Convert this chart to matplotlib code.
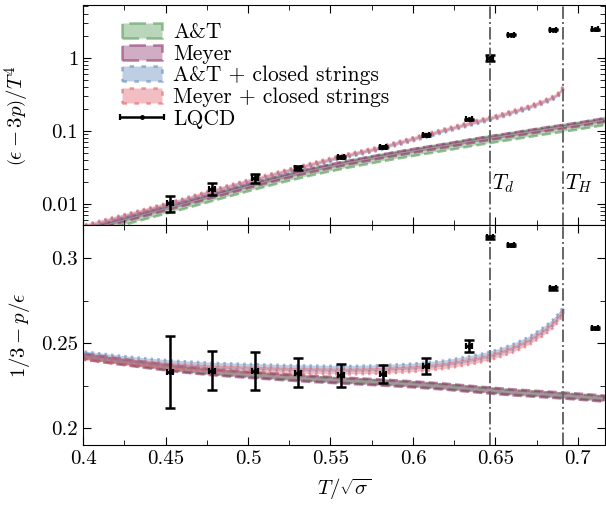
import matplotlib
matplotlib.use("Agg")
import matplotlib.pyplot as plt
from matplotlib.ticker import FixedLocator, FixedFormatter, MultipleLocator, NullFormatter, LogLocator
from matplotlib.legend_handler import HandlerErrorbar

plt.rcParams['font.family'] = 'serif'
plt.rcParams['font.serif'] = ['cmr10']
plt.rcParams['mathtext.fontset'] = 'cm'
plt.rcParams['axes.formatter.use_mathtext'] = True
plt.rcParams['font.size'] = 15

# temperatures T/sqrt(sigma)
T_d = 0.6468
T_H = 0.6912

# model curves
x_hg = [0.40, 0.42, 0.44, 0.46, 0.48, 0.50, 0.52, 0.54, 0.56, 0.58, 0.60,
        0.62, 0.64, 0.66, 0.68, 0.70, 0.716]
trace_hg = [0.0041, 0.0055, 0.0073, 0.0096, 0.0128, 0.0170, 0.0223, 0.0286,
            0.0355, 0.0432, 0.0518, 0.0614, 0.0735, 0.0865, 0.102, 0.119, 0.137]
ratio_hg = [0.2423, 0.2396, 0.2371, 0.2347, 0.2329, 0.2315, 0.2302, 0.2290,
            0.2280, 0.2270, 0.2259, 0.2245, 0.2228, 0.2212, 0.2200, 0.2187, 0.2175]

x_cs = [0.40, 0.42, 0.44, 0.46, 0.48, 0.50, 0.52, 0.54, 0.56, 0.58, 0.60,
        0.62, 0.64, 0.65, 0.66, 0.67, 0.68, 0.685, 0.688, 0.690, 0.6912]
trace_cs = [0.0048, 0.0063, 0.0083, 0.0110, 0.0151, 0.0201, 0.0265, 0.0350,
            0.0455, 0.0575, 0.0765, 0.102, 0.134, 0.153, 0.178, 0.207, 0.252,
            0.282, 0.310, 0.350, 0.390]
ratio_cs = [0.2428, 0.2405, 0.2385, 0.2370, 0.2360, 0.2354, 0.2348, 0.2344,
            0.2342, 0.2346, 0.2356, 0.2375, 0.2410, 0.2435, 0.2468, 0.2512,
            0.2575, 0.2615, 0.2648, 0.2675, 0.2690]

# lattice data
x_lat = [0.4526, 0.4784, 0.5042, 0.5302, 0.5563, 0.5817, 0.6078, 0.6339,
         0.6468, 0.6595, 0.6849, 0.7105]
trace_lat = [0.0103, 0.0160, 0.0225, 0.0310, 0.0432, 0.0592, 0.0865, 0.143,
             1.0, 2.05, 2.40, 2.45]
trace_err = [0.0025, 0.0029, 0.0032, 0.0021, 0.0012, 0.0015, 0.0020, 0.0030,
             0.10, 0.04, 0.04, 0.04]
ratio_lat = [0.2332, 0.2340, 0.2338, 0.2328, 0.2312, 0.2320, 0.2365, 0.2485,
             0.3124, 0.3078, 0.2824, 0.2590]
ratio_err = [0.0213, 0.0116, 0.0114, 0.0083, 0.0068, 0.0052, 0.0048, 0.0035,
             0.0010, 0.0008, 0.0008, 0.0008]
x_err = [0.0018] * len(x_lat)

green = (0.33, 0.60, 0.33)
purple = (0.55, 0.20, 0.42)
blue = (0.37, 0.53, 0.73)
red = (0.88, 0.37, 0.41)

# (label, key, colour, linestyle, log shift, log half width, lin shift, lin half width)
bands = [
    ('A&T', 'hg', green, '--', 0.97, 0.105, 0.0, 0.0013),
    ('Meyer', 'hg', purple, '--', 1.02, 0.06, 0.0, 0.0018),
    ('A&T + closed strings', 'cs', blue, ':', 0.98, 0.05, 0.0008, 0.0017),
    ('Meyer + closed strings', 'cs', red, ':', 1.01, 0.05, -0.0008, 0.0017),
]
curves = {'hg': (x_hg, trace_hg, ratio_hg), 'cs': (x_cs, trace_cs, ratio_cs)}

fig = plt.figure(figsize=(6.06, 5.05), dpi=100)
ax1 = fig.add_axes([0.137, 0.554, 0.861, 0.4356])
ax2 = fig.add_axes([0.137, 0.1188, 0.861, 0.4356], sharex=ax1)

for label, key, c, ls, fac, w, shift, hw in bands:
    xs, tr, rt = curves[key]
    lo = [v * fac * (1 - w) for v in tr]
    hi = [v * fac * (1 + w) for v in tr]
    ax1.fill_between(xs, lo, hi, facecolor=c + (0.4,), edgecolor=c + (0.6,),
                     linestyle=ls, linewidth=1.8, label=label)
    lo = [v + shift - hw for v in rt]
    hi = [v + shift + hw for v in rt]
    ax2.fill_between(xs, lo, hi, facecolor=c + (0.4,), edgecolor=c + (0.6,),
                     linestyle=ls, linewidth=1.8)

eb = ax1.errorbar(x_lat, trace_lat, xerr=x_err, fmt='.', color='k', ms=5,
                  elinewidth=1.8, capsize=2, capthick=1.6, label='LQCD')
ax1.errorbar(x_lat, trace_lat, yerr=trace_err, fmt='none', ecolor='k',
             elinewidth=1.8, capsize=3.5, capthick=1.8)
ax2.errorbar(x_lat, ratio_lat, xerr=x_err, fmt='.', color='k', ms=5,
             elinewidth=1.8, capsize=2, capthick=1.6)
ax2.errorbar(x_lat, ratio_lat, yerr=ratio_err, fmt='none', ecolor='k',
             elinewidth=1.8, capsize=3.5, capthick=1.8)

for ax in (ax1, ax2):
    ax.axvline(T_d, color='0.4', ls='-.', lw=1.4)
    ax.axvline(T_H, color='0.4', ls='-.', lw=1.4)
    ax.tick_params(which='both', direction='in', top=True, right=True)
    ax.tick_params(which='major', length=6)
    ax.tick_params(which='minor', length=3.5)

ax1.text(T_d + 0.0012, 0.019, r'$T_d$', ha='left', va='center', fontsize=15.5)
ax1.text(T_H + 0.0012, 0.019, r'$T_H$', ha='left', va='center', fontsize=15.5)

ax1.set_yscale('log')
ax1.set_ylim(0.00506, 5.2)
ax1.yaxis.set_major_locator(FixedLocator([0.01, 0.1, 1]))
ax1.yaxis.set_major_formatter(FixedFormatter(['0.01', '0.1', '1']))
ax1.yaxis.set_minor_locator(LogLocator(base=10, subs=range(2, 10)))
ax1.yaxis.set_minor_formatter(NullFormatter())
ax1.set_ylabel(r'$\left(\epsilon-3p\right)/T^4$')
ax1.yaxis.set_label_coords(-0.097, 0.5)
plt.setp(ax1.get_xticklabels(), visible=False)

ax2.set_xlim(0.4, 0.7163)
ax2.set_ylim(0.1902, 0.3196)
xt = [0.4, 0.45, 0.5, 0.55, 0.6, 0.65, 0.7]
ax2.xaxis.set_major_locator(FixedLocator(xt))
ax2.xaxis.set_major_formatter(FixedFormatter(['0.4', '0.45', '0.5', '0.55', '0.6', '0.65', '0.7']))
ax2.xaxis.set_minor_locator(MultipleLocator(0.025))
ax2.yaxis.set_major_locator(FixedLocator([0.2, 0.25, 0.3]))
ax2.yaxis.set_major_formatter(FixedFormatter(['0.2', '0.25', '0.3']))
ax2.yaxis.set_minor_locator(MultipleLocator(0.025))
ax2.set_xlabel(r'$T/\sqrt{\sigma}$')
ax2.set_ylabel(r'$1/3-p/\epsilon$')
ax2.yaxis.set_label_coords(-0.097, 0.5)
ax2.xaxis.set_label_coords(0.5, -0.145)

ax1.legend(loc='upper left', frameon=False, fontsize=15.5, handlelength=1.9,
           labelspacing=0.1, borderaxespad=0.3, handletextpad=0.5,
           bbox_to_anchor=(0.045, 0.99),
           handler_map={eb: HandlerErrorbar(xerr_size=1.0)})

fig.savefig('out.png', dpi=100)
